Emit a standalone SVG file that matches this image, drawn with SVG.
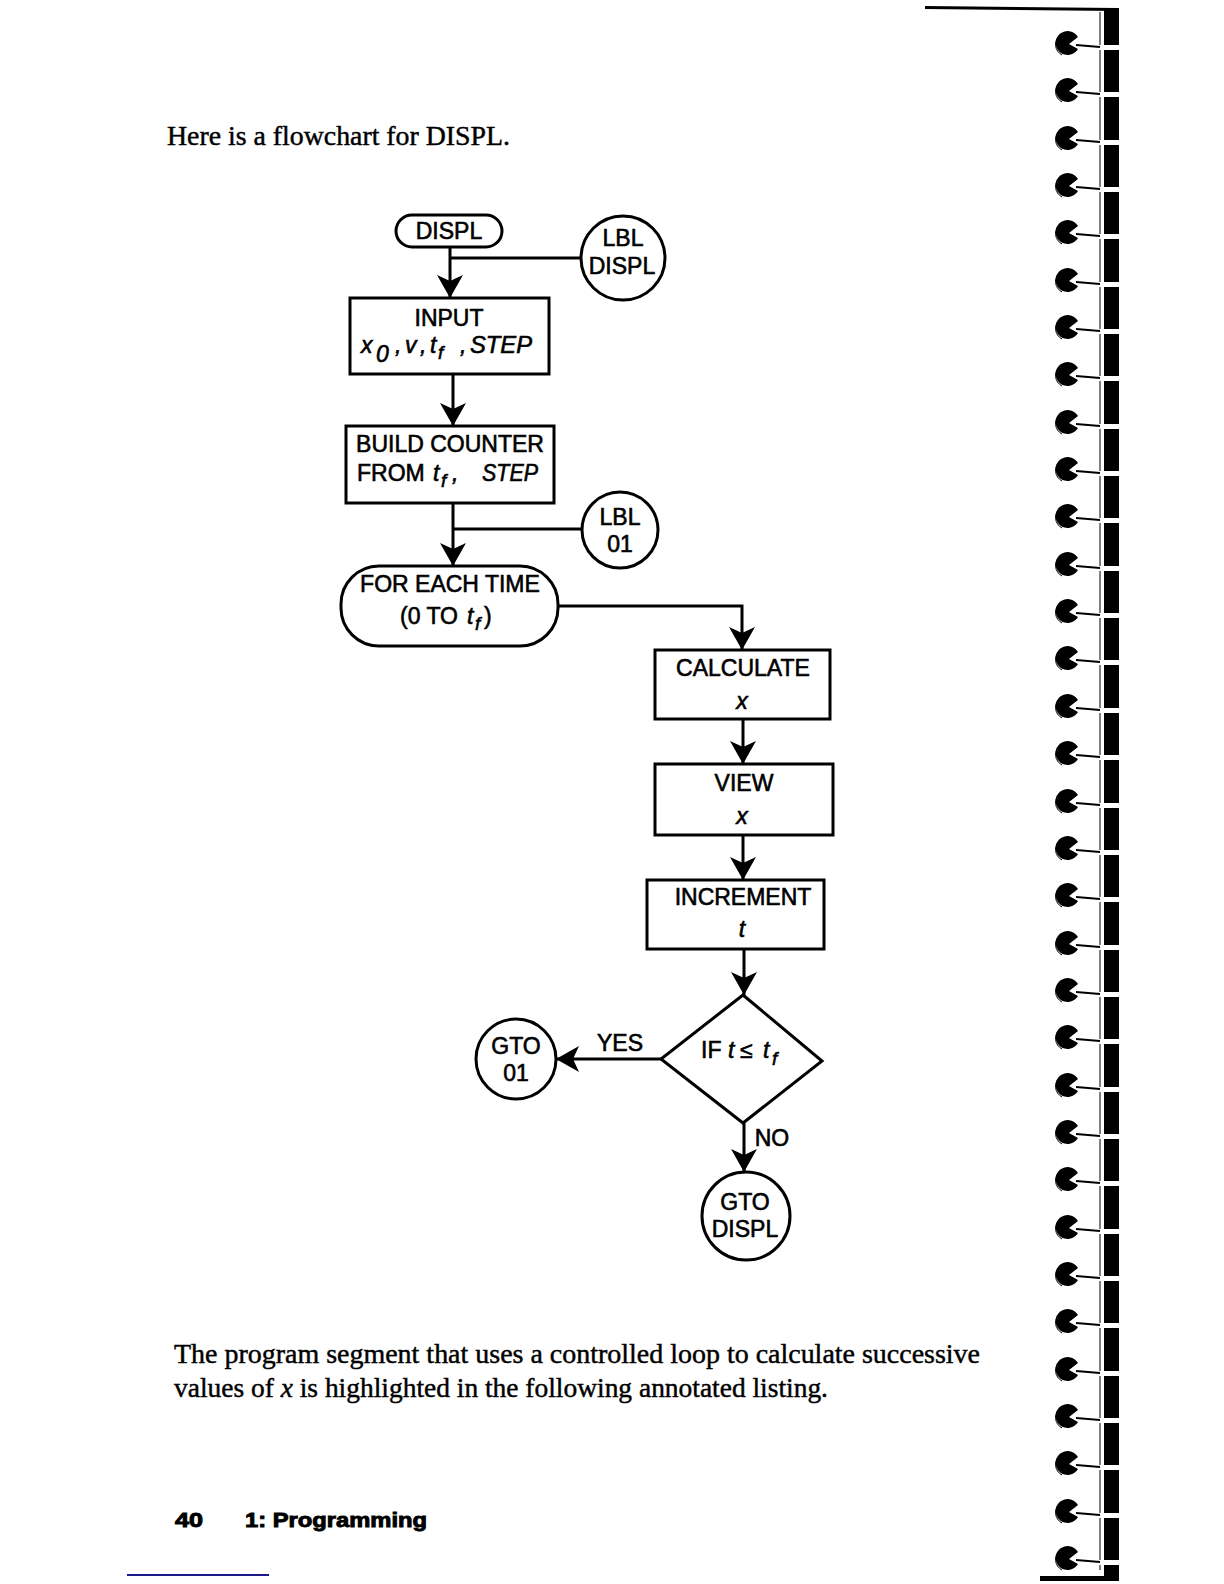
<svg xmlns="http://www.w3.org/2000/svg" xmlns:xlink="http://www.w3.org/1999/xlink" width="1224" height="1584" viewBox="0 0 1224 1584">
<style>
  .shape { fill: none; stroke: #000; stroke-width: 3; }
  .conn { fill: none; stroke: #000; stroke-width: 3; }
  .lbl { font-family: "Liberation Sans", Arial, sans-serif; font-size: 23px; fill: #000; stroke: #000; stroke-width: 0.6; text-anchor: middle; }
  .st { text-anchor: start; }
  .it { font-style: italic; }
  .body { font-family: "Liberation Serif", "Times New Roman", serif; font-size: 28px; fill: #000; stroke: #000; stroke-width: 0.45; }
  .foot { font-family: "Liberation Sans", Arial, sans-serif; font-size: 20px; font-weight: bold; fill: #000; stroke: #000; stroke-width: 0.9; }
</style>
<defs>
  <marker id="arrow" markerUnits="userSpaceOnUse" markerWidth="30" markerHeight="30" refX="0" refY="0" viewBox="-24 -15 26 30" orient="auto">
    <path d="M0,0 L-23,-13 L-17,0 L-23,13 Z" fill="#000"/>
  </marker>
  <g id="coil">
    <path d="M1078,-6 A12,12 0 1 0 1078,6 L1069,1 Z" fill="#000"/>
    <path d="M1060,-8 A12,12 0 0 0 1062,12" fill="none" stroke="#000" stroke-width="1"/>
    <rect x="1098" y="2" width="24" height="5" fill="#fff"/>
    <line x1="1076" y1="2" x2="1100" y2="4" stroke="#000" stroke-width="2"/>
  </g>
</defs>
<rect width="1224" height="1584" fill="#fff"/>

<!-- page text -->
<text class="body" x="167" y="145" font-size="27" textLength="343" lengthAdjust="spacingAndGlyphs">Here is a flowchart for DISPL.</text>
<text class="body" x="174" y="1363" textLength="806" lengthAdjust="spacingAndGlyphs">The program segment that uses a controlled loop to calculate successive</text>
<text class="body" x="174" y="1397" textLength="654" lengthAdjust="spacingAndGlyphs">values of <tspan font-style="italic">x</tspan> is highlighted in the following annotated listing.</text>
<text class="foot" x="175" y="1527" textLength="28" lengthAdjust="spacingAndGlyphs">40</text>
<text class="foot" x="245" y="1527" textLength="182" lengthAdjust="spacingAndGlyphs">1: Programming</text>
<line x1="127" y1="1575" x2="269" y2="1575" stroke="#1a1a8c" stroke-width="2"/>

<!-- binding -->
<g id="binding">
  <path d="M925,6 L1118,8 L1118,11 L925,9 Z" fill="#000"/>
  <rect x="1104" y="8" width="15" height="1572" fill="#000"/>
  <line x1="1100" y1="12" x2="1100" y2="1570" stroke="#000" stroke-width="1"/>
  <rect x="1040" y="1576" width="79" height="5" fill="#000"/>
  <use xlink:href="#coil" y="43"/>
  <use xlink:href="#coil" y="90"/>
  <use xlink:href="#coil" y="138"/>
  <use xlink:href="#coil" y="185"/>
  <use xlink:href="#coil" y="232"/>
  <use xlink:href="#coil" y="280"/>
  <use xlink:href="#coil" y="327"/>
  <use xlink:href="#coil" y="374"/>
  <use xlink:href="#coil" y="422"/>
  <use xlink:href="#coil" y="469"/>
  <use xlink:href="#coil" y="516"/>
  <use xlink:href="#coil" y="564"/>
  <use xlink:href="#coil" y="611"/>
  <use xlink:href="#coil" y="658"/>
  <use xlink:href="#coil" y="706"/>
  <use xlink:href="#coil" y="753"/>
  <use xlink:href="#coil" y="801"/>
  <use xlink:href="#coil" y="848"/>
  <use xlink:href="#coil" y="895"/>
  <use xlink:href="#coil" y="943"/>
  <use xlink:href="#coil" y="990"/>
  <use xlink:href="#coil" y="1037"/>
  <use xlink:href="#coil" y="1085"/>
  <use xlink:href="#coil" y="1132"/>
  <use xlink:href="#coil" y="1179"/>
  <use xlink:href="#coil" y="1227"/>
  <use xlink:href="#coil" y="1274"/>
  <use xlink:href="#coil" y="1321"/>
  <use xlink:href="#coil" y="1369"/>
  <use xlink:href="#coil" y="1416"/>
  <use xlink:href="#coil" y="1463"/>
  <use xlink:href="#coil" y="1511"/>
  <use xlink:href="#coil" y="1558"/>
</g>

<!-- connectors -->
<g id="connectors">
  <polyline class="conn" points="450,247 450,298" marker-end="url(#arrow)"/>
  <line class="conn" x1="450" y1="258" x2="581" y2="258"/>
  <polyline class="conn" points="453,374 453,426" marker-end="url(#arrow)"/>
  <polyline class="conn" points="453,503 453,566" marker-end="url(#arrow)"/>
  <line class="conn" x1="453" y1="529" x2="582" y2="529"/>
  <polyline class="conn" points="558,606 742,606 742,650" marker-end="url(#arrow)"/>
  <polyline class="conn" points="743,719 743,764" marker-end="url(#arrow)"/>
  <polyline class="conn" points="743,835 743,880" marker-end="url(#arrow)"/>
  <polyline class="conn" points="744,949 744,995" marker-end="url(#arrow)"/>
  <polyline class="conn" points="661,1059 556,1059" marker-end="url(#arrow)"/>
  <polyline class="conn" points="744,1123 744,1172" marker-end="url(#arrow)"/>
  <text class="lbl" x="620" y="1051">YES</text>
  <text class="lbl" x="772" y="1146">NO</text>
</g>

<!-- nodes -->
<g id="n-displ">
  <rect class="shape" x="396" y="215" width="106" height="32" rx="16"/>
  <text class="lbl" x="449" y="239">DISPL</text>
</g>
<g id="n-lbl-displ">
  <circle class="shape" cx="623" cy="258" r="42"/>
  <text class="lbl" x="623" y="246">LBL</text>
  <text class="lbl" x="622" y="274">DISPL</text>
</g>
<g id="n-input">
  <rect class="shape" x="350" y="298" width="199" height="76"/>
  <text class="lbl" x="449" y="326">INPUT</text>
  <text class="lbl it st" y="353"><tspan x="361">x</tspan><tspan x="376" dy="9">0</tspan><tspan x="395" dy="-9">,</tspan><tspan x="405">v</tspan><tspan x="420">,</tspan><tspan x="430">t</tspan><tspan x="438" dy="6" font-size="19">f</tspan><tspan x="460" dy="-6">,</tspan><tspan x="470" textLength="62" lengthAdjust="spacingAndGlyphs">STEP</tspan></text>
</g>
<g id="n-build">
  <rect class="shape" x="346" y="426" width="208" height="77"/>
  <text class="lbl" x="450" y="452">BUILD COUNTER</text>
  <text class="lbl st" y="481"><tspan x="357">FROM</tspan><tspan class="it" x="433">t</tspan><tspan class="it" x="441" dy="6" font-size="19">f</tspan><tspan class="it" x="452" dy="-6">,</tspan><tspan class="it" x="482" textLength="56" lengthAdjust="spacingAndGlyphs">STEP</tspan></text>
</g>
<g id="n-lbl01">
  <circle class="shape" cx="620" cy="530" r="38"/>
  <text class="lbl" x="620" y="525">LBL</text>
  <text class="lbl" x="620" y="552">01</text>
</g>
<g id="n-foreach">
  <rect class="shape" x="341" y="566" width="217" height="80" rx="38"/>
  <text class="lbl" x="450" y="592">FOR EACH TIME</text>
  <text class="lbl st" y="624"><tspan x="400">(0 TO</tspan><tspan class="it" x="467">t</tspan><tspan class="it" x="475" dy="6" font-size="19">f</tspan><tspan x="484" dy="-6">)</tspan></text>
</g>
<g id="n-calc">
  <rect class="shape" x="655" y="650" width="175" height="69"/>
  <text class="lbl" x="743" y="676">CALCULATE</text>
  <text class="lbl it" x="742" y="709">x</text>
</g>
<g id="n-view">
  <rect class="shape" x="655" y="764" width="178" height="71"/>
  <text class="lbl" x="744" y="791">VIEW</text>
  <text class="lbl it" x="742" y="824">x</text>
</g>
<g id="n-incr">
  <rect class="shape" x="647" y="880" width="177" height="69"/>
  <text class="lbl" x="743" y="905">INCREMENT</text>
  <text class="lbl it" x="742" y="937">t</text>
</g>
<g id="n-if">
  <polygon class="shape" points="743,995 822,1061 743,1123 661,1059"/>
  <text class="lbl st" y="1058"><tspan x="701">IF</tspan><tspan class="it" x="728">t</tspan><tspan x="740">≤</tspan><tspan class="it" x="763">t</tspan><tspan class="it" x="772" dy="7" font-size="19">f</tspan></text>
</g>
<g id="n-gto01">
  <circle class="shape" cx="516" cy="1059" r="40"/>
  <text class="lbl" x="516" y="1054">GTO</text>
  <text class="lbl" x="516" y="1081">01</text>
</g>
<g id="n-gtodispl">
  <circle class="shape" cx="746" cy="1216" r="44"/>
  <text class="lbl" x="745" y="1210">GTO</text>
  <text class="lbl" x="745" y="1237">DISPL</text>
</g>
</svg>
